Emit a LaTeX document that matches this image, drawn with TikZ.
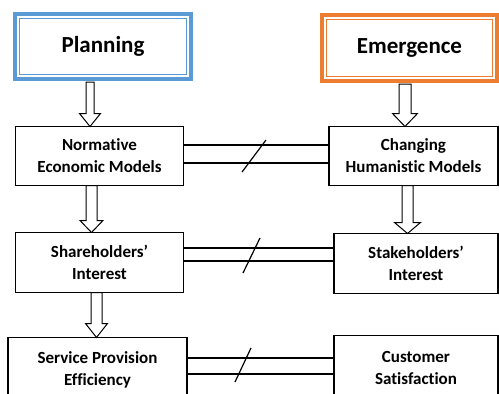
\documentclass[tikz,border=0pt]{standalone}
\usepackage{fontspec}
\setmainfont{Carlito}[Ligatures=NoCommon]
\usetikzlibrary{calc}

\definecolor{planblue}{RGB}{91,155,213}
\definecolor{emorange}{RGB}{237,125,49}

\tikzset{
  headbox/.style={draw, line width=3.6pt, outer sep=0pt, inner sep=0pt,
    font=\fontsize{23}{26}\selectfont\bfseries},
  stepbox/.style={draw, line width=1.5pt, outer sep=0pt, inner sep=0pt,
    align=center, font=\fontsize{17}{22}\selectfont\bfseries},
  link/.style={line width=1.5pt},
  cut/.style={line width=1.2pt},
  % hollow block arrow from the start point down to the target point
  hollow/.style n args={3}{line width=1pt, to path={
    let \p1=(\tikztostart), \p2=(\tikztotarget) in
    (\x1-#1,\y1) -- (\x1-#1,\y2+#3) -- (\x1-#2,\y2+#3) -- (\x2,\y2)
    -- (\x1+#2,\y2+#3) -- (\x1+#1,\y2+#3) -- (\x1+#1,\y1) -- cycle}},
}

\begin{document}
\begin{tikzpicture}[x=1pt,y=-1pt]
\useasboundingbox (0,0) rectangle (499,394);

% top headings
\node[headbox, draw=planblue, minimum width=176pt, minimum height=65pt]
  (plan) at (103,46.5) {\raisebox{4pt}{Planning}};
\draw[planblue, line width=1pt]
  ([shift={(4.5pt,-4.5pt)}]plan.north west) rectangle ([shift={(-4.5pt,4.5pt)}]plan.south east);
\node[headbox, draw=emorange, minimum width=175pt, minimum height=66pt]
  (emer) at (409.5,48) {\raisebox{4pt}{Emergence}};
\draw[emorange, line width=1pt]
  ([shift={(4.5pt,-4.5pt)}]emer.north west) rectangle ([shift={(-4.5pt,4.5pt)}]emer.south east);

% left column
\node[stepbox, minimum width=168pt, minimum height=59pt] (norm) at (99.5,156)
  {Normative\\Economic Models};
\node[stepbox, minimum width=168pt, minimum height=60pt] (share) at (99.5,262.5)
  {Shareholders'\\Interest};
\node[stepbox, minimum width=179pt, minimum height=64pt] (serv) at (97.5,369.5)
  {Service Provision\\Efficiency};

% right column
\node[stepbox, minimum width=169pt, minimum height=59pt] (chg) at (413.5,156)
  {Changing\\Humanistic Models};
\node[stepbox, minimum width=164pt, minimum height=60pt] (stake) at (416,263.5)
  {Stakeholders'\\Interest};
\node[stepbox, minimum width=164pt, minimum height=64pt] (cust) at (416,367.5)
  {Customer\\Satisfaction};

% downward block arrows
\draw[hollow={4pt}{10.5pt}{13pt}] ([yshift=-3pt]plan.south -| 90,0) to (norm.north -| 90,0);
\draw[hollow={6pt}{12.5pt}{13pt}] ([yshift=-3pt]emer.south -| 405,0) to (chg.north -| 405,0);
\draw[hollow={5.5pt}{11.5pt}{12pt}] (norm.south -| 91.5,0) to (share.north -| 91.5,0);
\draw[hollow={5.5pt}{13pt}{11pt}] (chg.south -| 407.5,0) to (stake.north -| 407.5,0);
\draw[hollow={5.5pt}{11pt}{14pt}] (share.south -| 96.5,0) to (serv.north -| 96.5,0);

% double links between the columns
\draw[link] (norm.east |- 0,145) -- (chg.west |- 0,145);
\draw[link] (norm.east |- 0,163) -- (chg.west |- 0,163);
\draw[link] (share.east |- 0,248) -- (stake.west |- 0,248);
\draw[link] (share.east |- 0,261) -- (stake.west |- 0,261);
\draw[link] (serv.east |- 0,358) -- (cust.west |- 0,358);
\draw[link] (serv.east |- 0,374) -- (cust.west |- 0,374);

% break marks on the links
\draw[cut] (242,172) -- (266,140);
\draw[cut] (243,273) -- (260,238);
\draw[cut] (235,382) -- (251,348);
\end{tikzpicture}
\end{document}
